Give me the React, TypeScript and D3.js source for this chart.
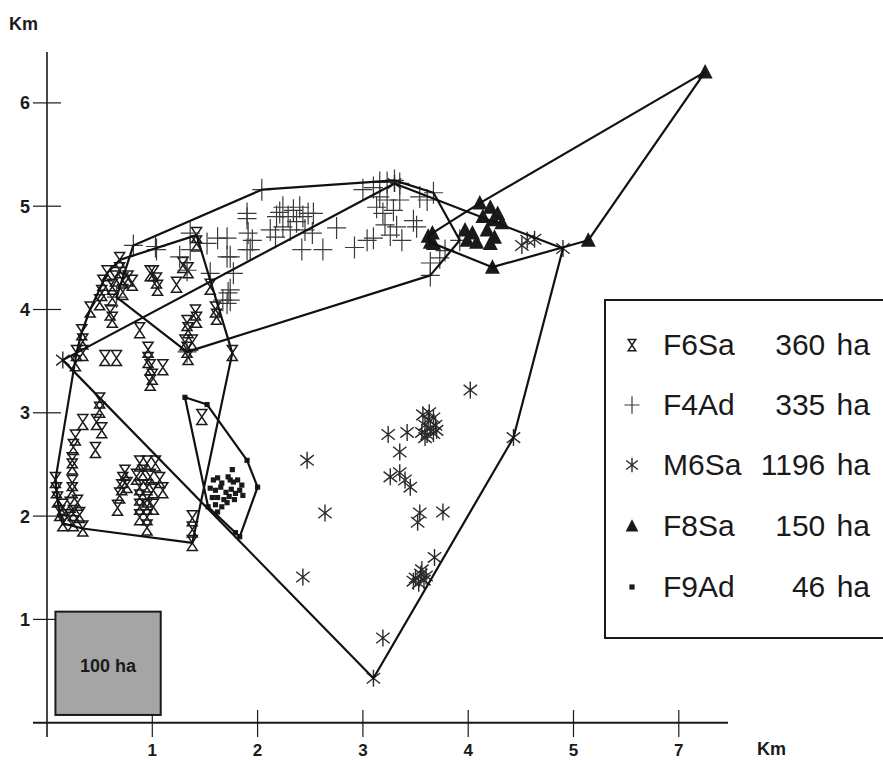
import React from 'react';
import * as d3 from 'd3';

const W = 883;
const H = 760;

const xTickValues = [1, 2, 3, 4, 5, 6];
const xTickLabels = ['1', '2', '3', '4', '5', '7'];
const yTickValues = [1, 2, 3, 4, 5, 6];
const yTickLabels = ['1', '2', '3', '4', '5', '6'];

const legendNames = ['F6Sa', 'F4Ad', 'M6Sa', 'F8Sa', 'F9Ad'];
const legendAreas = ['360 ha', '335 ha', '1196 ha', '150 ha', '46 ha'];
const scaleBoxLabel = '100 ha';

type P = [number, number];

const f6sa: P[] = [
  [0.69, 4.48], [0.69, 4.38], [0.57, 4.35], [0.65, 4.30], [0.72, 4.28], [0.81, 4.26], [0.53, 4.26],
  [0.62, 4.22], [0.72, 4.17], [0.52, 4.16], [0.62, 4.11], [0.50, 4.07], [0.41, 4.00], [0.60, 3.97],
  [0.62, 3.90], [0.33, 3.78], [0.34, 3.69], [0.28, 3.58], [0.34, 3.58], [0.27, 3.48], [0.55, 3.53],
  [0.66, 3.53], [0.88, 3.80], [0.96, 3.61], [0.96, 3.51], [0.98, 3.44], [1.10, 3.44], [1.00, 3.35],
  [0.98, 3.29], [1.01, 4.35], [1.04, 4.28], [1.05, 4.21], [0.98, 4.35], [1.23, 4.24], [1.29, 4.43],
  [1.34, 4.38], [1.42, 4.72], [1.42, 4.64], [1.55, 4.22], [1.33, 3.87], [1.41, 3.97], [1.42, 3.90],
  [1.34, 3.80], [1.60, 4.00], [1.61, 3.93], [1.31, 3.68], [1.33, 3.61], [1.34, 3.54], [1.38, 3.68],
  [1.76, 3.58], [0.77, 4.30], [0.50, 3.12], [0.50, 3.03], [0.34, 2.91], [0.47, 2.91], [0.52, 2.83],
  [0.27, 2.76], [0.46, 2.64], [0.25, 2.67], [0.24, 2.54], [0.24, 2.48], [0.08, 2.35], [0.24, 2.32],
  [0.24, 2.25], [0.09, 2.25], [0.10, 2.16], [0.15, 2.09], [0.22, 2.11], [0.29, 2.13], [0.12, 2.03],
  [0.19, 1.99], [0.25, 2.03], [0.31, 2.01], [0.15, 1.93], [0.25, 1.93], [0.34, 1.88], [0.74, 2.42],
  [0.72, 2.35], [0.71, 2.28], [0.69, 2.20], [0.67, 2.08], [0.76, 2.30], [0.88, 2.51], [0.95, 2.51],
  [1.03, 2.51], [0.85, 2.38], [0.91, 2.42], [0.98, 2.38], [1.07, 2.35], [1.10, 2.25], [0.88, 2.28],
  [0.95, 2.28], [1.01, 2.25], [0.88, 2.18], [0.95, 2.16], [0.88, 2.09], [0.95, 2.09], [1.01, 2.09],
  [0.88, 1.99], [0.95, 1.99], [0.95, 1.89], [1.38, 1.98], [1.38, 1.87], [1.38, 1.74], [1.47, 2.96],
];

const f4ad: P[] = [
  [1.90, 4.93], [1.90, 4.88], [1.71, 4.69], [1.74, 4.51], [1.93, 4.58], [1.95, 4.67], [1.77, 4.35],
  [1.72, 4.16], [1.71, 4.06], [2.12, 4.77], [2.18, 4.90], [2.21, 4.94], [2.24, 4.99], [2.29, 4.90],
  [2.34, 4.96], [2.40, 4.99], [2.43, 4.90], [2.48, 4.93], [2.53, 4.93], [2.24, 4.80], [2.31, 4.77],
  [2.37, 4.85], [2.45, 4.77], [2.17, 4.70], [2.52, 4.74], [2.42, 4.58], [2.62, 4.58], [2.75, 4.79],
  [3.04, 4.67], [3.10, 4.69], [3.00, 5.16], [3.10, 5.18], [3.16, 5.23], [3.23, 5.23], [3.30, 5.25],
  [3.35, 5.22], [3.16, 5.09], [3.23, 5.06], [3.13, 4.99], [3.19, 4.93], [3.29, 4.96], [3.35, 5.06],
  [3.32, 4.80], [3.48, 4.86], [3.51, 4.80], [3.54, 5.09], [3.61, 5.06], [3.37, 4.67], [3.67, 5.13],
  [3.92, 4.67], [3.64, 4.45], [3.64, 4.33], [3.78, 4.57], [3.73, 4.50], [3.21, 4.82], [3.26, 4.72],
  [0.82, 4.62], [1.03, 4.61], [1.36, 4.74], [1.62, 4.69], [1.91, 4.74], [1.04, 4.58], [1.26, 4.51],
  [1.52, 4.64], [1.71, 4.51], [1.90, 4.58], [1.74, 4.19], [1.74, 4.09], [1.55, 4.35], [1.33, 4.38],
  [2.04, 5.16], [0.66, 4.12], [1.33, 3.59], [1.36, 4.58], [1.67, 4.09], [2.92, 4.60],
];

const m6sa: P[] = [
  [0.15, 3.51], [3.30, 5.22], [4.90, 4.59], [4.43, 2.76], [3.10, 0.43],
  [4.51, 4.62], [4.63, 4.68], [4.56, 4.67],
  [2.47, 2.54], [2.64, 2.03], [2.43, 1.41], [3.19, 0.82],
  [3.24, 2.79], [3.42, 2.81], [3.35, 2.62], [3.26, 2.38], [3.35, 2.42], [3.40, 2.35], [3.45, 2.28],
  [3.54, 2.03], [3.52, 1.94], [3.76, 2.04], [3.68, 1.60], [4.02, 3.22],
  [3.57, 2.98], [3.62, 2.93], [3.67, 2.95], [3.59, 2.88], [3.64, 2.85], [3.69, 2.88], [3.56, 2.81],
  [3.61, 2.79], [3.67, 2.80], [3.70, 2.83], [3.63, 3.00], [3.59, 2.76],
  [3.50, 1.40], [3.55, 1.44], [3.58, 1.38], [3.53, 1.35], [3.56, 1.48], [3.60, 1.42], [3.48, 1.37],
];

const f8sa: P[] = [
  [6.25, 6.30], [5.14, 4.67], [4.23, 4.41], [3.64, 4.65], [4.11, 5.03], [4.21, 4.99], [4.28, 4.93],
  [4.14, 4.90], [4.24, 4.87], [4.32, 4.84], [4.18, 4.77], [4.25, 4.70], [3.97, 4.77], [4.04, 4.74],
  [3.99, 4.67], [4.08, 4.65], [4.21, 4.64], [3.67, 4.64], [3.62, 4.71], [3.66, 4.74],
];

const f9ad: P[] = [
  [1.31, 3.15], [1.52, 3.08], [1.90, 2.54], [2.00, 2.28], [1.83, 1.80], [1.79, 1.84], [1.53, 2.09],
  [1.58, 2.35], [1.62, 2.37], [1.66, 2.32], [1.72, 2.38], [1.77, 2.33], [1.81, 2.35], [1.85, 2.30],
  [1.55, 2.27], [1.60, 2.25], [1.65, 2.28], [1.70, 2.23], [1.75, 2.26], [1.79, 2.22], [1.83, 2.25],
  [1.57, 2.18], [1.62, 2.18], [1.68, 2.16], [1.73, 2.19], [1.78, 2.16], [1.60, 2.11], [1.66, 2.09],
  [1.71, 2.13], [1.62, 2.04], [1.76, 2.45], [1.74, 2.35], [1.86, 2.20],
];

const ink = '#1a1a1a';

function markerPath(kind: string, s: number): string {
  if (kind === 'hourglass') {
    const w = 5 * s, h = 7.5 * s;
    return `M${-w},${-h}H${w}L${-w},${h}H${w}Z`;
  }
  if (kind === 'plus') {
    return `M0,${-11 * s}V${11 * s}M${-9.5 * s},0H${9.5 * s}`;
  }
  if (kind === 'asterisk') {
    const r = 8.5 * s;
    const angs = [90, 38, 142];
    return angs
      .map((a) => {
        const t = (a * Math.PI) / 180;
        const dx = r * Math.cos(t), dy = r * Math.sin(t);
        return `M${-dx},${-dy}L${dx},${dy}`;
      })
      .join('');
  }
  if (kind === 'triangle') {
    return `M0,${-8 * s}L${7.5 * s},${6.5 * s}H${-7.5 * s}Z`;
  }
  const q = 2.6 * s;
  return `M${-q},${-q}H${q}V${q}H${-q}Z`;
}

const kinds = ['hourglass', 'plus', 'asterisk', 'triangle', 'square'];

function markerStyle(kind: string) {
  if (kind === 'hourglass') return { fill: 'none', stroke: ink, strokeWidth: 1.5 };
  if (kind === 'plus') return { fill: 'none', stroke: '#3a3a3a', strokeWidth: 1.2 };
  if (kind === 'asterisk') return { fill: 'none', stroke: '#2a2a2a', strokeWidth: 1.4 };
  return { fill: ink, stroke: 'none', strokeWidth: 0 };
}

export default function App() {
  const x = d3.scaleLinear().domain([0, 7]).range([47, 47 + 7 * 105.3]);
  const y = d3.scaleLinear().domain([0, 6]).range([722.7, 722.7 - 6 * 103.3]);

  const series = [f6sa, f4ad, m6sa, f8sa, f9ad];
  const line = d3.line().curve(d3.curveLinearClosed);

  const hulls = series.map((pts) => {
    const px = pts.map((p) => [x(p[0]), y(p[1])] as [number, number]);
    const h = d3.polygonHull(px);
    return h ? line(h) : '';
  });

  const x0 = x(0);
  const y0 = y(0);
  const font = 'Liberation Sans, Arial, Helvetica, sans-serif';

  const rowY = [345, 405, 465, 526, 587];

  return (
    <svg
      width={W}
      height={H}
      viewBox={`0 0 ${W} ${H}`}
      style={{ position: 'absolute', left: 0, top: 0, background: '#fff' }}
      fontFamily={font}
    >
      <rect x={0} y={0} width={W} height={H} fill="#fff" />

      {/* axes */}
      <line x1={x0} y1={52} x2={x0} y2={737} stroke={ink} strokeWidth={1.6} />
      <line x1={33} y1={y0} x2={728} y2={y0} stroke={ink} strokeWidth={2} />
      {yTickValues.map((v, i) => (
        <g key={'yt' + i}>
          <line x1={33} x2={61} y1={y(v)} y2={y(v)} stroke={ink} strokeWidth={1.2} />
          <text x={30} y={y(v) + 6.5} textAnchor="end" fontSize={18} fontWeight="bold" fill={ink}>
            {yTickLabels[i]}
          </text>
        </g>
      ))}
      {xTickValues.map((v, i) => (
        <g key={'xt' + i}>
          <line x1={x(v)} x2={x(v)} y1={710} y2={737} stroke={ink} strokeWidth={1.2} />
          <text x={x(v)} y={756} textAnchor="middle" fontSize={17} fontWeight="bold" fill={ink}>
            {xTickLabels[i]}
          </text>
        </g>
      ))}
      <text x={9} y={30} fontSize={18} fontWeight="bold" fill={ink}>Km</text>
      <text x={757} y={755} fontSize={18} fontWeight="bold" fill={ink}>Km</text>

      {/* scale box */}
      <rect
        x={x(0.08)}
        y={y(1.075)}
        width={x(1.08) - x(0.08)}
        height={y(0.075) - y(1.075)}
        fill="#a5a5a5"
        stroke={ink}
        strokeWidth={2}
      />
      <text
        x={(x(0.08) + x(1.08)) / 2}
        y={672}
        textAnchor="middle"
        fontSize={18}
        fontWeight="bold"
        fill={ink}
      >
        {scaleBoxLabel}
      </text>

      {/* markers */}
      {series.map((pts, si) => {
        const k = kinds[si];
        const st = markerStyle(k);
        const d = markerPath(k, 1);
        return (
          <g key={'s' + si}>
            {pts.map((p, i) => (
              <path key={i} d={d} transform={`translate(${x(p[0])},${y(p[1])})`} {...st} />
            ))}
          </g>
        );
      })}

      {/* hulls */}
      {hulls.map((d, i) => (
        <path key={'h' + i} d={d || ''} fill="none" stroke="#111" strokeWidth={2.2} strokeLinejoin="round" />
      ))}

      {/* legend */}
      <rect x={605} y={300} width={300} height={338} fill="#fff" stroke={ink} strokeWidth={2} />
      {legendNames.map((n, i) => {
        const k = kinds[i];
        const st = markerStyle(k);
        const sc = k === 'hourglass' ? 0.75 : k === 'plus' ? 0.8 : k === 'asterisk' ? 0.85 : k === 'triangle' ? 0.85 : 1;
        return (
          <g key={'lg' + i}>
            <path d={markerPath(k, sc)} transform={`translate(632,${rowY[i]})`} {...st} />
            <text x={663} y={rowY[i] + 10} fontSize={30} fill={ink}>{n}</text>
            <text x={870} y={rowY[i] + 10} fontSize={30} fill={ink} textAnchor="end" wordSpacing={3}>
              {legendAreas[i]}
            </text>
          </g>
        );
      })}
    </svg>
  );
}
